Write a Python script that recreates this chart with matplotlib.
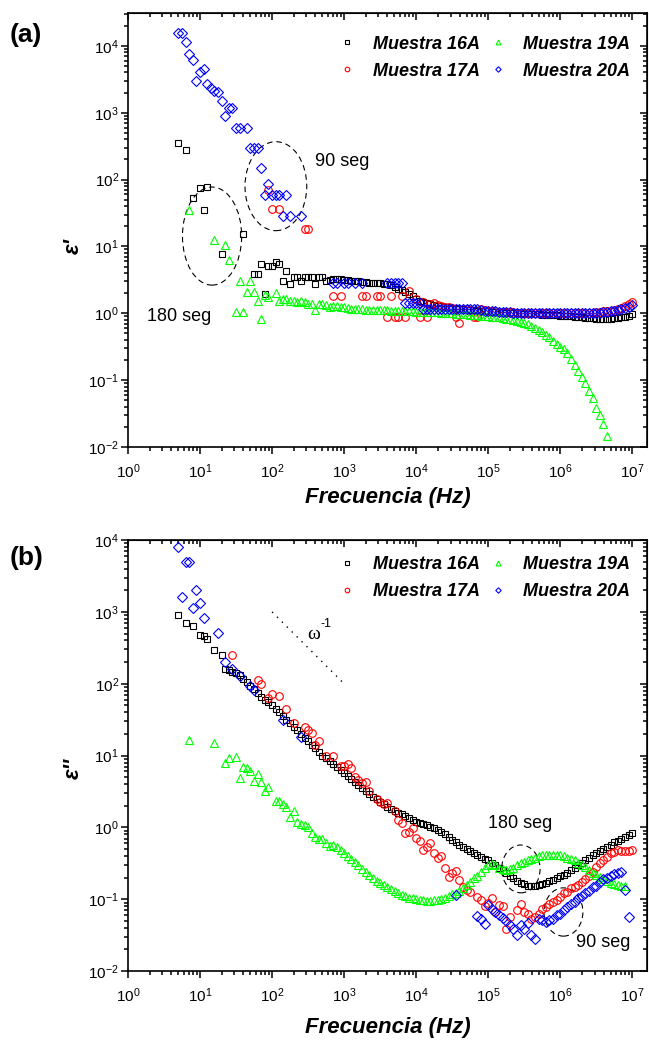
import numpy as np
import matplotlib
matplotlib.use("Agg")
import matplotlib.pyplot as plt
from matplotlib.patches import Ellipse
from matplotlib.ticker import FixedLocator, LogFormatterSciNotation

plt.rcParams['font.family'] = 'Liberation Sans'
plt.rcParams['mathtext.default'] = 'regular'

_ = None

# measurement frequencies (Hz), 20 points per decade
FREQ = [
    5.01, 5.62, 6.31, 7.08, 7.94, 8.91,
    10.0, 11.2, 12.6, 14.1, 15.8, 17.8, 20.0, 22.4, 25.1, 28.2,
    31.6, 35.5, 39.8, 44.7, 50.1, 56.2, 63.1, 70.8, 79.4, 89.1,
    100, 112, 126, 141, 158, 178, 200, 224, 251, 282,
    316, 355, 398, 447, 501, 562, 631, 708, 794, 891,
    1.00e3, 1.12e3, 1.26e3, 1.41e3, 1.58e3, 1.78e3, 2.00e3, 2.24e3, 2.51e3, 2.82e3,
    3.16e3, 3.55e3, 3.98e3, 4.47e3, 5.01e3, 5.62e3, 6.31e3, 7.08e3, 7.94e3, 8.91e3,
    1.00e4, 1.12e4, 1.26e4, 1.41e4, 1.58e4, 1.78e4, 2.00e4, 2.24e4, 2.51e4, 2.82e4,
    3.16e4, 3.55e4, 3.98e4, 4.47e4, 5.01e4, 5.62e4, 6.31e4, 7.08e4, 7.94e4, 8.91e4,
    1.00e5, 1.12e5, 1.26e5, 1.41e5, 1.58e5, 1.78e5, 2.00e5, 2.24e5, 2.51e5, 2.82e5,
    3.16e5, 3.55e5, 3.98e5, 4.47e5, 5.01e5, 5.62e5, 6.31e5, 7.08e5, 7.94e5, 8.91e5,
    1.00e6, 1.12e6, 1.26e6, 1.41e6, 1.58e6, 1.78e6, 2.00e6, 2.24e6, 2.51e6, 2.82e6,
    3.16e6, 3.55e6, 3.98e6, 4.47e6, 5.01e6, 5.62e6, 6.31e6, 7.08e6, 7.94e6, 8.91e6,
    1.00e7,
]

X_TICKS = [1e0, 1e1, 1e2, 1e3, 1e4, 1e5, 1e6, 1e7]
Y_TICKS = [1e-2, 1e-1, 1e0, 1e1, 1e2, 1e3, 1e4]

# ---- (a) log10(eps') ----
e1_16A = [
    2.55, _, 2.44, _, 1.73, _,
    1.875, 1.54, 1.89, _, _, _, 0.88, _, _, _,
    _, _, 1.18, _, _, 0.59, 0.59, 0.73, 0.29, 0.70,
    0.70, 0.77, 0.73, 0.48, 0.63, 0.44, 0.55, 0.55, 0.48, 0.55,
    0.55, 0.55, 0.44, 0.55, 0.55, 0.48, 0.50, 0.52, 0.52, 0.51,
    0.50, 0.50, 0.49, 0.48, 0.48, 0.47, 0.47, 0.46, 0.46, 0.45,
    0.45, 0.44, 0.44, 0.42, 0.40, 0.37, 0.35, 0.32, 0.29, 0.26,
    0.22, 0.19, 0.17, 0.155, 0.14, 0.125, 0.115, 0.105, 0.095, 0.09,
    0.085, 0.075, 0.07, 0.06, 0.055, 0.05, 0.045, 0.04, 0.035, 0.03,
    0.027, 0.024, 0.02, 0.017, 0.014, 0.01, 0.007, 0.004, 0.002, 0.0,
    -0.005, -0.008, -0.01, -0.013, -0.016, -0.02, -0.023, -0.026, -0.03, -0.033,
    -0.036, -0.04, -0.043, -0.047, -0.05, -0.055, -0.06, -0.065, -0.07, -0.075,
    -0.08, -0.085, -0.085, -0.085, -0.08, -0.075, -0.07, -0.06, -0.05, -0.035,
    -0.01,
]
e1_17A = [
    _, _, _, _, _, _,
    _, _, _, _, _, _, _, _, _, _,
    _, _, _, _, _, _, _, _, _, 1.85,
    1.556, _, 1.556, _, _, _, _, _, _, 1.256,
    1.256, _, _, _, _, _, _, 0.26, _, 0.26,
    _, _, _, _, _, 0.26, 0.26, _, _, 0.26,
    0.26, _, -0.06, 0.26, -0.06, -0.06, 0.26, -0.06, 0.327, _,
    0.22, -0.06, 0.17, -0.06, 0.14, 0.15, 0.12, 0.11, 0.10, 0.09,
    0.085, -0.06, -0.15, 0.07, 0.06, 0.055, -0.06, -0.06, 0.07, 0.045,
    0.04, 0.035, 0.03, 0.025, 0.02, 0.02, 0.015, 0.015, 0.01, 0.01,
    0.01, 0.01, 0.01, 0.01, 0.01, 0.01, 0.01, 0.01, 0.01, 0.01,
    0.01, 0.01, 0.01, 0.01, 0.01, 0.01, 0.01, 0.01, 0.01, 0.01,
    0.015, 0.02, 0.03, 0.035, 0.04, 0.05, 0.06, 0.08, 0.11, 0.14,
    0.17,
]
e1_19A = [
    _, _, _, 1.55, _, _,
    _, _, _, _, 1.10, _, _, 1.017, 0.79, _,
    0.02, 0.49, 0.02, 0.32, 0.49, 0.32, 0.19, -0.09, 0.28, 0.25,
    _, 0.30, 0.19, 0.217, 0.217, 0.19, 0.19, 0.167, 0.19, 0.167,
    0.142, 0.142, 0.042, 0.142, 0.142, 0.117, 0.092, 0.115, 0.11, 0.10,
    0.093, 0.08, 0.07, 0.065, 0.06, 0.058, 0.055, 0.052, 0.05, 0.048,
    0.046, 0.044, 0.042, 0.04, 0.038, 0.036, 0.034, 0.032, 0.03, 0.028,
    0.026, 0.024, 0.022, 0.02, 0.018, 0.015, 0.012, 0.01, 0.007, 0.004,
    0.0, -0.004, -0.008, -0.012, -0.016, -0.02, -0.025, -0.03, -0.035, -0.04,
    -0.045, -0.05, -0.055, -0.06, -0.07, -0.08, -0.09, -0.10, -0.11, -0.125,
    -0.14, -0.165, -0.19, -0.22, -0.25, -0.28, -0.32, -0.36, -0.41, -0.46,
    -0.50, -0.54, -0.60, -0.68, -0.78, -0.86, -0.95, -1.05, -1.16, -1.27,
    -1.41, -1.52, -1.66, -1.83, _, _, _, _, _, _,
    _,
]
e1_20A = [
    4.19, 4.19, 4.065, 3.88, 3.79, 3.475,
    3.615, 3.65, 3.43, 3.375, 3.325, 3.31, 3.175, 2.95, 3.066, 3.066,
    2.775, 2.775, _, 2.775, 2.466, 2.466, 2.466, 2.166, 1.766, 1.94,
    1.766, 1.766, 1.766, 1.456, 1.766, 1.456, _, _, 1.456, _,
    _, _, _, _, _, _, _, 0.457, 0.457, _,
    0.457, 0.457, _, 0.457, _, 0.457, _, _, _, _,
    _, _, 0.457, 0.457, 0.457, 0.457, 0.457, 0.157, 0.157, 0.157,
    0.157, 0.157, 0.057, 0.057, 0.057, 0.057, 0.057, 0.057, 0.057, 0.057,
    0.057, 0.057, 0.057, 0.057, 0.057, 0.057, 0.057, 0.057, 0.045, 0.04,
    0.035, 0.03, 0.03, 0.025, 0.02, 0.02, 0.015, 0.01, 0.01, 0.005,
    0.0, 0.0, 0.0, 0.0, 0.0, 0.0, 0.0, 0.0, 0.0, 0.0,
    0.0, 0.0, 0.0, 0.0, 0.0, 0.0, 0.0, 0.0, 0.0, 0.0,
    0.0, 0.005, 0.015, 0.025, 0.035, 0.04, 0.05, 0.065, 0.08, 0.10,
    0.12,
]

# ---- (b) log10(eps'') ----
e2_16A = [
    2.955, _, 2.85, _, 2.80, _,
    2.68, 2.67, 2.62, _, 2.47, _, 2.40, 2.21, 2.19, 2.17,
    2.15, 2.12, 2.07, 2.02, 1.97, 1.92, 1.87, 1.82, 1.78, 1.74,
    1.70, 1.65, 1.60, 1.55, 1.50, 1.45, 1.40, 1.35, 1.30, 1.25,
    1.20, 1.15, 1.10, 1.05, 1.00, 0.96, 0.92, 0.88, 0.84, 0.80,
    0.76, 0.72, 0.68, 0.63, 0.59, 0.55, 0.51, 0.47, 0.43, 0.39,
    0.36, 0.32, 0.29, 0.26, 0.23, 0.20, 0.18, 0.155, 0.13, 0.105,
    0.08, 0.065, 0.05, 0.03, 0.01, -0.01, -0.03, -0.06, -0.09, -0.13,
    -0.17, -0.21, -0.24, -0.27, -0.30, -0.33, -0.36, -0.39, -0.41, -0.44,
    -0.46, -0.49, -0.53, -0.57, -0.60, -0.64, -0.68, -0.71, -0.74, -0.77,
    -0.79, -0.81, -0.81, -0.81, -0.80, -0.79, -0.77, -0.75, -0.73, -0.71,
    -0.68, -0.66, -0.63, -0.60, -0.57, -0.53, -0.50, -0.46, -0.43, -0.39,
    -0.36, -0.33, -0.30, -0.27, -0.24, -0.21, -0.19, -0.16, -0.13, -0.10,
    -0.08,
]
e2_17A = [
    _, _, _, _, _, _,
    _, _, _, _, _, _, _, _, _, 2.40,
    _, _, _, _, _, _, 2.05, 2.00, _, 1.80,
    1.86, _, 1.83, _, 1.65, _, 1.46, _, _, 1.40,
    1.35, 1.31, 1.15, 1.20, _, 0.99, _, 1.00, _, 0.86,
    0.86, 0.88, 0.83, 0.70, 0.66, 0.62, 0.63, 0.50, _, 0.40,
    0.36, 0.33, 0.34, _, 0.23, 0.10, 0.055, -0.085, -0.06, -0.015,
    -0.15, -0.19, -0.31, -0.27, -0.22, -0.36, -0.42, -0.40, -0.56, -0.69,
    -0.64, -0.61, -0.73, -0.83, -0.87, -0.90, _, -0.97, -1.01, -1.10,
    -1.05, -0.98, -1.18, -1.08, -1.10, -1.41, -1.25, _, -1.15, -1.07,
    -1.18, -1.21, -1.28, -1.25, -1.20, -1.14, -1.11, -1.06, -1.04, -1.01,
    -0.97, -0.92, -0.90, -0.85, -0.83, -0.80, -0.76, -0.72, -0.67, -0.62,
    -0.55, -0.50, -0.46, -0.41, -0.36, -0.34, -0.32, -0.33, -0.33, -0.33,
    -0.32,
]
e2_19A = [
    _, _, _, 1.21, _, _,
    _, _, _, _, 1.17, _, _, 0.90, 0.96, _,
    0.98, 0.69, 0.84, 0.82, 0.79, 0.65, 0.74, 0.63, 0.50, 0.56,
    _, 0.37, 0.37, 0.32, 0.285, 0.15, 0.23, 0.08, 0.05, 0.03,
    0.0, -0.085, -0.14, -0.165, -0.155, -0.215, -0.26, -0.25, -0.27, -0.31,
    -0.36, -0.40, -0.44, -0.48, -0.53, -0.58, -0.62, -0.66, -0.70, -0.74,
    -0.77, -0.80, -0.83, -0.86, -0.89, -0.92, -0.94, -0.96, -0.98, -0.99,
    -1.0, -1.01, -1.01, -1.02, -1.02, -1.01, -1.01, -1.0, -0.98, -0.96,
    -0.93, -0.91, -0.88, -0.85, -0.80, -0.76, -0.71, -0.67, -0.62, -0.57,
    -0.53, -0.51, -0.52, -0.56, -0.58, -0.59, -0.58, -0.56, -0.52, -0.50,
    -0.48, -0.46, -0.44, -0.42, -0.40, -0.39, -0.385, -0.38, -0.38, -0.385,
    -0.39, -0.40, -0.42, -0.44, -0.46, -0.49, -0.52, -0.55, -0.59, -0.63,
    -0.66, -0.69, -0.72, -0.75, -0.77, -0.79, -0.80, -0.81, -0.82, _,
    _,
]
e2_20A = [
    3.91, 3.21, 3.70, 3.70, 3.06, 3.31,
    3.13, 2.91, _, _, _, 2.70, _, 2.30, _, 2.20,
    _, 2.11, _, _, 1.97, 1.91, _, _, _, _,
    _, _, _, 1.50, _, _, _, _, 1.26, _,
    _, _, _, _, _, _, _, _, _, _,
    _, _, _, _, _, _, _, _, _, _,
    _, _, _, _, _, _, _, _, _, _,
    _, _, _, _, _, _, _, _, _, _,
    _, -0.94, _, _, _, _, _, -1.24, -1.28, -1.34,
    -1.08, -1.13, -1.18, -1.22, -1.26, -1.31, -1.36, -1.41, -1.50, -1.36,
    -1.41, -1.33, -1.50, -1.56, -1.27, -1.29, -1.32, -1.29, -1.28, -1.22,
    -1.21, -1.15, -1.11, -1.06, -1.04, -0.99, -0.95, -0.92, -0.88, -0.83,
    -0.81, -0.76, -0.72, -0.70, -0.68, -0.65, -0.63, -0.62, -0.865, -1.25,
    _,
]

LABELS = ['Muestra 16A', 'Muestra 17A', 'Muestra 19A', 'Muestra 20A']
MARKERS = ['s', 'o', '^', 'D']
MSIZE = [5.0, 5.5, 5.8, 4.6]
COLORS = ['black', 'red', '#00ff00', 'blue']

# omega^-1 guide line (panel b)
omega_f = [1e2, 1e3]
omega_v = [1e3, 1e2]


def xy(vals):
    assert len(vals) == len(FREQ)
    f = np.array(FREQ, float)
    v = np.array([np.nan if x is None else x for x in vals], float)
    m = ~np.isnan(v)
    return f[m], np.power(10.0, v[m])


def style(ax, ylim):
    ax.set_xscale('log')
    ax.set_yscale('log')
    ax.set_xlim(1, 1.6e7)
    ax.set_ylim(*ylim)
    # only the decades inside the view get a major tick / label
    ax.xaxis.set_major_locator(FixedLocator(X_TICKS))
    ax.yaxis.set_major_locator(FixedLocator(Y_TICKS))
    ax.xaxis.set_major_formatter(LogFormatterSciNotation())
    ax.yaxis.set_major_formatter(LogFormatterSciNotation())
    for s in ax.spines.values():
        s.set_linewidth(1.2)
    ax.tick_params(which='both', direction='out', width=1.1, labelsize=11,
                   top=False, right=False)
    ax.tick_params(which='major', length=5)
    ax.tick_params(which='minor', length=3)
    ax.tick_params(axis='x', pad=6)
    ax.tick_params(axis='y', pad=1.5)
    sx = ax.secondary_xaxis('top')
    sx.xaxis.set_major_locator(FixedLocator(X_TICKS))
    sx.tick_params(which='both', direction='in', width=1.1, labeltop=False)
    sx.tick_params(which='major', length=5)
    sx.tick_params(which='minor', length=3)
    sy = ax.secondary_yaxis('right')
    sy.yaxis.set_major_locator(FixedLocator(Y_TICKS))
    sy.tick_params(which='both', direction='in', width=1.1, labelright=False)
    sy.tick_params(which='major', length=5)
    sy.tick_params(which='minor', length=3)
    ax.set_xlabel('Frecuencia (Hz)', fontsize=16, fontweight='bold', fontstyle='italic')


fig = plt.figure(figsize=(6.49, 10.41), dpi=100)
ax1 = fig.add_axes([0.1972, 0.5706, 0.7997, 0.4169])
ax2 = fig.add_axes([0.1972, 0.0672, 0.7997, 0.4140])

handles = []
for vals, lab, mk, ms, c in zip([e1_16A, e1_17A, e1_19A, e1_20A], LABELS, MARKERS, MSIZE, COLORS):
    f, v = xy(vals)
    h, = ax1.plot(f, v, ls='none', marker=mk, ms=ms, mfc='none', mec=c, mew=0.8, label=lab)
    handles.append(h)
for vals, lab, mk, ms, c in zip([e2_16A, e2_17A, e2_19A, e2_20A], LABELS, MARKERS, MSIZE, COLORS):
    f, v = xy(vals)
    ax2.plot(f, v, ls='none', marker=mk, ms=ms, mfc='none', mec=c, mew=0.8, label=lab)

style(ax1, (1e-2, 3.1e4))
style(ax2, (1e-2, 1e4))

ax1.set_ylabel("ε'", fontsize=16, fontweight='bold', fontstyle='italic')
ax2.set_ylabel("ε''", fontsize=16, fontweight='bold', fontstyle='italic')
ax1.yaxis.set_label_coords(-0.086, 0.463)
ax2.yaxis.set_label_coords(-0.086, 0.471)
ax1.xaxis.set_label_coords(0.5, -0.092)
ax2.xaxis.set_label_coords(0.5, -0.107)

legend_kw = dict(ncol=2, loc='upper right', frameon=False, markerscale=0.6,
                 prop=dict(size=13, weight='bold', style='italic'),
                 handlelength=1.0, handletextpad=0.9, columnspacing=0.5,
                 labelspacing=0.55, borderpad=0, borderaxespad=0)
ax1.legend(handles=handles, bbox_to_anchor=(0.967, 0.948), **legend_kw)
ax2.legend(bbox_to_anchor=(0.967, 0.962), **legend_kw)

# dashed ellipses and labels
ell_kw = dict(fill=False, ls=(0, (5, 3.5)), lw=0.8, ec='black')
ax1.add_patch(Ellipse((0.285, 0.601), 0.119, 0.205, transform=ax1.transAxes, **ell_kw))
ax1.add_patch(Ellipse((0.162, 0.486), 0.114, 0.226, transform=ax1.transAxes, **ell_kw))
ax1.text(0.360, 0.658, '90 seg', transform=ax1.transAxes, fontsize=13, va='center')
ax1.text(0.037, 0.300, '180 seg', transform=ax1.transAxes, fontsize=13, va='center')

ax2.add_patch(Ellipse((0.757, 0.237), 0.074, 0.111, transform=ax2.transAxes, **ell_kw))
ax2.add_patch(Ellipse((0.839, 0.137), 0.075, 0.112, transform=ax2.transAxes, **ell_kw))
ax2.text(0.694, 0.343, '180 seg', transform=ax2.transAxes, fontsize=13, va='center')
ax2.text(0.863, 0.067, '90 seg', transform=ax2.transAxes, fontsize=13, va='center')

ax2.plot(omega_f, omega_v, ls=(0, (1, 4)), lw=1.0, color='black')
ax2.text(0.358, 0.780, 'ω', transform=ax2.transAxes, fontsize=14, family='Liberation Serif',
         ha='center', va='center')
ax2.text(0.370, 0.806, '-1', transform=ax2.transAxes, fontsize=9, ha='left', va='center')

fig.text(10 / 649, 1 - 35 / 1041, '(a)', fontsize=19, fontweight='bold', va='center')
fig.text(10 / 649, 1 - 558 / 1041, '(b)', fontsize=19, fontweight='bold', va='center')

fig.savefig('out.png', dpi=100)
